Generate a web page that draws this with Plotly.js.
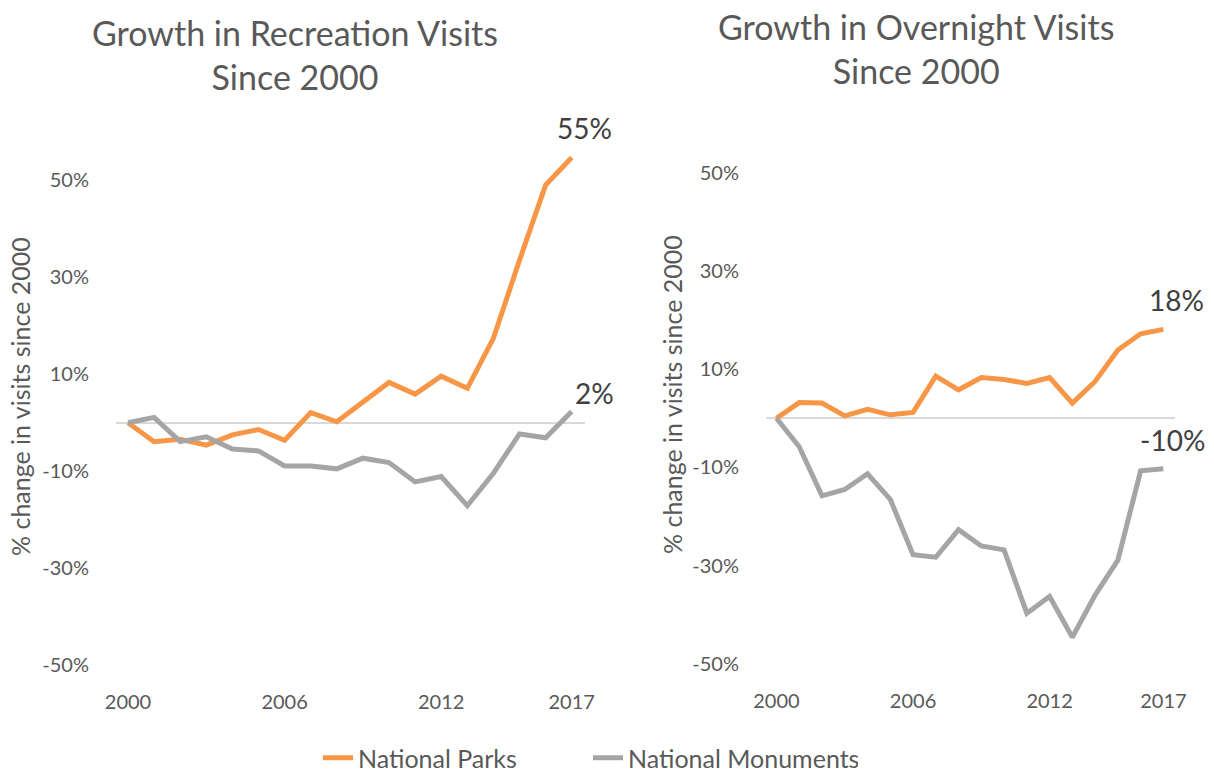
<!DOCTYPE html>
<html>
<head>
<meta charset="utf-8">
<script src="https://cdn.plot.ly/plotly-3.0.1.min.js"></script>
<style>html,body{margin:0;padding:0;background:#fff;}#chart{width:1214px;height:773px;}</style>
</head>
<body>
<div id="chart"></div>
<script>
const years = [2000,2001,2002,2003,2004,2005,2006,2007,2008,2009,2010,2011,2012,2013,2014,2015,2016,2017];
const recreationParks = [0,-3.9,-3.4,-4.6,-2.5,-1.4,-3.6,2.1,0.2,4.3,8.3,5.9,9.6,7.1,17.4,33.5,49,54.7];
const recreationMonuments = [0,1.1,-3.9,-2.9,-5.4,-5.8,-8.9,-8.9,-9.5,-7.3,-8.2,-12.2,-11.1,-17.1,-10.4,-2.3,-3.1,2.3];
const overnightParks = [0,3.2,3.1,0.5,1.8,0.7,1.2,8.6,5.8,8.3,7.9,7.1,8.3,3.1,7.5,13.9,17.2,18.1];
const overnightMonuments = [0,-5.8,-15.8,-14.5,-11.3,-16.5,-27.8,-28.3,-22.7,-26,-26.8,-39.7,-36.3,-44.6,-36,-28.9,-10.7,-10.3];
const xTickVals = [2000,2006,2012,2017];
const yTickVals = [50,30,10,-10,-30,-50];
const seriesNames = ["National Parks","National Monuments"];
const chartTitles = ["Growth in Recreation Visits<br>Since 2000","Growth in Overnight Visits<br>Since 2000"];
const yTitle = "% change in visits since 2000";

const ORANGE = "#F79646";
const GRAY = "#A5A5A5";
const TEXT = "#595959";
const FONT = "Lato, 'Open Sans', sans-serif";
const W = 1214, H = 773;
const px = v => v / W;
const py = v => 1 - v / H;

const traces = [
  {x: years, y: recreationParks, name: seriesNames[0], xaxis: "x", yaxis: "y", mode: "lines",
   line: {color: ORANGE, width: 5}, legendgroup: "p", showlegend: true},
  {x: years, y: recreationMonuments, name: seriesNames[1], xaxis: "x", yaxis: "y", mode: "lines",
   line: {color: GRAY, width: 5}, legendgroup: "m", showlegend: true},
  {x: years, y: overnightParks, name: seriesNames[0], xaxis: "x2", yaxis: "y2", mode: "lines",
   line: {color: ORANGE, width: 5}, legendgroup: "p", showlegend: false},
  {x: years, y: overnightMonuments, name: seriesNames[1], xaxis: "x2", yaxis: "y2", mode: "lines",
   line: {color: GRAY, width: 5}, legendgroup: "m", showlegend: false}
];

function xAxis(domain, anchor) {
  return {domain: domain, anchor: anchor, range: [1999.54, 2017.51], tickvals: xTickVals, ticktext: xTickVals.map(String),
    showgrid: false, zeroline: false, showline: false, ticks: "outside", ticklen: 9, tickcolor: "rgba(0,0,0,0)",
    tickfont: {family: FONT, size: 20, color: TEXT}, fixedrange: true, automargin: false};
}
function yAxis(domain, anchor) {
  return {domain: domain, range: [-52, 58], anchor: anchor, tickvals: yTickVals, ticktext: yTickVals.map(v => v + "%"),
    showgrid: false, zeroline: true, zerolinecolor: "#D9D9D9", zerolinewidth: 2, showline: false,
    ticks: "outside", ticklen: 22, tickcolor: "rgba(0,0,0,0)",
    tickfont: {family: FONT, size: 20, color: TEXT}, fixedrange: true, automargin: false};
}

const last = years.length - 1;
const lastYear = years[last];
const labelFont = {family: FONT, size: 28, color: "#404040"};
const annotations = [
  {text: chartTitles[0], xref: "paper", yref: "paper", x: px(295), y: py(54), xanchor: "center", yanchor: "middle",
   showarrow: false, font: {family: FONT, size: 34, color: TEXT}},
  {text: chartTitles[1], xref: "paper", yref: "paper", x: px(916), y: py(48), xanchor: "center", yanchor: "middle",
   showarrow: false, font: {family: FONT, size: 34, color: TEXT}},
  {text: yTitle, xref: "paper", yref: "paper", x: px(20), y: py(397), textangle: -90, xanchor: "center", yanchor: "middle",
   showarrow: false, font: {family: FONT, size: 25, color: TEXT}},
  {text: yTitle, xref: "paper", yref: "paper", x: px(672), y: py(395), textangle: -90, xanchor: "center", yanchor: "middle",
   showarrow: false, font: {family: FONT, size: 25, color: TEXT}},
  {text: Math.round(recreationParks[last]) + "%", xref: "x", yref: "y", x: lastYear, y: recreationParks[last],
   xanchor: "center", yanchor: "bottom", xshift: 13, yshift: 10, showarrow: false, font: labelFont},
  {text: Math.round(recreationMonuments[last]) + "%", xref: "x", yref: "y", x: lastYear, y: recreationMonuments[last],
   xanchor: "left", yanchor: "bottom", xshift: 1, yshift: 0, showarrow: false, font: labelFont},
  {text: Math.round(overnightParks[last]) + "%", xref: "x2", yref: "y2", x: lastYear, y: overnightParks[last],
   xanchor: "center", yanchor: "bottom", xshift: 13, yshift: 10, showarrow: false, font: labelFont},
  {text: Math.round(overnightMonuments[last]) + "%", xref: "x2", yref: "y2", x: lastYear, y: overnightMonuments[last],
   xanchor: "center", yanchor: "bottom", xshift: 9, yshift: 10, showarrow: false, font: labelFont}
];

const layout = {
  width: W, height: H,
  margin: {l: 0, r: 0, t: 0, b: 0, autoexpand: false},
  paper_bgcolor: "#ffffff", plot_bgcolor: "#ffffff",
  font: {family: FONT, color: TEXT},
  xaxis: xAxis([px(116), px(585)], "y"),
  yaxis: yAxis([py(675), py(141.4)], "x"),
  xaxis2: xAxis([px(766), px(1175)], "y2"),
  yaxis2: yAxis([py(673.6), py(133.5)], "x2"),
  showlegend: true,
  legend: {orientation: "h", x: px(318), xanchor: "left", y: py(758), yanchor: "middle",
    entrywidth: 225, entrywidthmode: "pixels",
    font: {family: FONT, size: 25, color: TEXT}, bgcolor: "rgba(0,0,0,0)"},
  annotations: annotations
};

Plotly.newPlot("chart", traces, layout, {displayModeBar: false, staticPlot: true});
</script>
</body>
</html>
